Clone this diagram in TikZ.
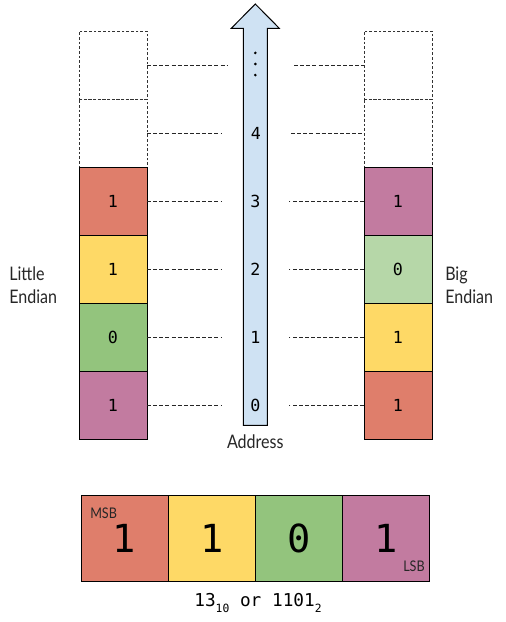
\documentclass[tikz,border=0pt]{standalone}
\usepackage{fontspec}
\setmainfont{Lato}[FakeStretch=0.86]
\newfontfamily\monof{DejaVu Sans Mono}
\definecolor{cred}{HTML}{DF7E6B}
\definecolor{cyellow}{HTML}{FED966}
\definecolor{cgreen}{HTML}{93C47D}
\definecolor{cpurple}{HTML}{C27BA0}
\definecolor{clgreen}{HTML}{B6D7A8}
\definecolor{cblue}{HTML}{CFE2F3}
\begin{document}
\begin{tikzpicture}[x=0.75pt,y=-0.75pt,
  cell/.style={draw,line width=0.75pt,minimum width=51pt,minimum height=51pt,inner sep=0pt,outer sep=0pt,font=\monof\fontsize{12.5}{14}\selectfont},
  ecell/.style={cell,draw=black!80,dash pattern=on 2pt off 1.5pt,line width=0.6pt},
  bcell/.style={draw,line width=0.75pt,minimum width=65.4pt,minimum height=64.8pt,inner sep=0pt,outer sep=0pt,font=\monof\fontsize{29}{32}\selectfont},
  conn/.style={draw=black!85,line width=0.6pt,dash pattern=on 3pt off 1.6pt},
  num/.style={font=\monof\fontsize{12.5}{14}\selectfont,inner sep=0pt},
  lbl/.style={font=\fontsize{14}{17}\selectfont\color{black!85},align=left,inner sep=0pt},
  small/.style={font=\fontsize{11}{12}\selectfont\color{black!85},inner sep=0pt}]
\useasboundingbox (0,0) rectangle (506,622);
% left column
\node[ecell] (L5) at (113,65) {};
\node[ecell] (L4) at (113,133) {};
\node[cell,fill=cred] (L3) at (113,201) {1};
\node[cell,fill=cyellow] (L2) at (113,269) {1};
\node[cell,fill=cgreen] (L1) at (113,337) {0};
\node[cell,fill=cpurple] (L0) at (113,405) {1};
% right column
\node[ecell] (R5) at (398,65) {};
\node[ecell] (R4) at (398,133) {};
\node[cell,fill=cpurple] (R3) at (398,201) {1};
\node[cell,fill=clgreen] (R2) at (398,269) {0};
\node[cell,fill=cyellow] (R1) at (398,337) {1};
\node[cell,fill=cred] (R0) at (398,405) {1};
% address arrow
\draw[fill=cblue,line width=0.75pt] (243.3,425.3) -- (243.3,28.3) -- (231.3,28.3) -- (255.3,4) -- (279.3,28.3) -- (267.3,28.3) -- (267.3,425.3) -- cycle;
\coordinate (Adots) at (255.3,64);
\fill ([yshift=8.3pt]Adots) circle (1.1pt) (Adots) circle (1.1pt) ([yshift=-8.3pt]Adots) circle (1.1pt);
\node[num] (A4) at (256,133) {4};
\node[num] (A3) at (255.3,201) {3};
\node[num] (A2) at (255.3,269) {2};
\node[num] (A1) at (255.3,337) {1};
\node[num] (A0) at (255.3,405) {0};
\node[lbl] (addr) at (255.3,442) {Address};
% connectors
\coordinate (la5) at (227,65); \coordinate (ra5) at (294,65);
\coordinate (la4) at (221,133); \coordinate (ra4) at (291,133);
\draw[conn] (L5.east) -- (la5); \draw[conn] (ra5) -- (R5.west);
\draw[conn] (L4.east) -- (la4); \draw[conn] (ra4) -- (R4.west);
\foreach \i in {0,1,2,3}{
  \draw[conn] (L\i.east) -- ++(56pt,0);
  \draw[conn] (R\i.west) -- ++(-56pt,0);
}
% side labels
\node[lbl,anchor=west] (little) at (9,285) {Little\\Endian};
\node[lbl,anchor=west] (big) at (445,285) {Big\\Endian};
% bottom number
\node[bcell,fill=cred] (B3) at (124.6,538.5) {1};
\node[bcell,fill=cyellow,anchor=west] (B2) at (B3.east) {1};
\node[bcell,fill=cgreen,anchor=west] (B1) at (B2.east) {0};
\node[bcell,fill=cpurple,anchor=west] (B0) at (B1.east) {1};
\node[small,anchor=north west] (msb) at (90,508) {MSB};
\node[small,anchor=south east] (lsb) at (425,572) {LSB};
\node[font=\monof\fontsize{13.3}{15}\selectfont,inner sep=0pt] (val) at (258,603) {13\raisebox{-4pt}{\fontsize{8.5}{9}\selectfont 10} or 1101\raisebox{-4pt}{\fontsize{8.5}{9}\selectfont 2}};
\end{tikzpicture}
\end{document}
